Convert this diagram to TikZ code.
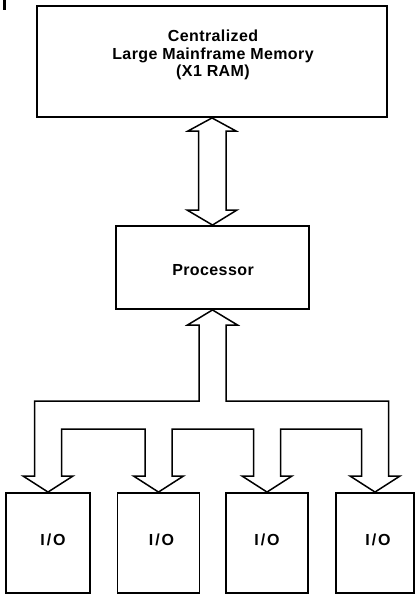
\documentclass[tikz,border=0pt]{standalone}
\usepackage{fontspec}
\newfontfamily\lblfont{Liberation Sans}[LetterSpace=2.5]
\usetikzlibrary{calc}
\begin{document}
\begin{tikzpicture}[x=1pt,y=-1pt,
  box/.style={draw, line width=1.9pt, rectangle, inner sep=0pt},
  lbl/.style={font=\lblfont\bfseries\fontsize{16}{17.5}\selectfont, align=center, inner sep=0pt},
  bigarrow/.style={draw, line width=1.5pt, line join=miter, fill=white}]
\useasboundingbox (0,0) rectangle (415,594);
% top-left margin mark
\draw[line width=2.5pt] (4.5,0) -- (4.5,10);
% boxes
\node[box, minimum width=350pt, minimum height=111pt] (mem) at (212,61.5) {};
\node[box, minimum width=193pt, minimum height=83pt] (proc) at (212.5,267.5) {};
\node[box, minimum width=84pt, minimum height=100pt] (io1) at (48,543) {};
\node[box, minimum width=82pt, minimum height=100pt] (io2) at (158.5,543) {};
\node[box, minimum width=82pt, minimum height=100pt] (io3) at (267,543) {};
\node[box, minimum width=78pt, minimum height=100pt] (io4) at (375,543) {};
% labels
\node[lbl] (memtext) at (213,55) {Centralized\\Large Mainframe Memory\\(X1 RAM)};
\node[lbl] (proctext) at (213,270) {Processor};
\node[lbl] (io1text) at ($(io1.center)+(5,-3)$) {I\kern2pt/\kern2pt O};
\node[lbl] (io2text) at ($(io2.center)+(3,-3)$) {I\kern2pt/\kern2pt O};
\node[lbl] (io3text) at ($(io3.center)+(0,-3)$) {I\kern2pt/\kern2pt O};
\node[lbl] (io4text) at ($(io4.center)+(3,-3)$) {I\kern2pt/\kern2pt O};
% double arrow memory <-> processor
\draw[bigarrow] (mem.south) -- (236,131) -- (226,131) -- (226,210) -- (237,210)
  -- (proc.north) -- (187,210) -- (198.5,210) -- (198.5,131) -- (188,131) -- cycle;
% bus tree from processor to I/O
\draw[bigarrow] (proc.south) -- (237.5,325) -- (226,325) -- (226,401)
  -- (388.5,401) -- (388.5,476) -- (400,476) -- (io4.north) -- (350,476) -- (361.5,476)
  -- (361.5,429) -- (280.5,429) -- (280.5,476) -- (292,476) -- (io3.north) -- (242,476) -- (253.5,476)
  -- (253.5,429) -- (172,429) -- (172,476) -- (183.5,476) -- (io2.north) -- (133.5,476) -- (145,476)
  -- (145,429) -- (61.5,429) -- (61.5,476) -- (73,476) -- (io1.north) -- (23,476) -- (34.5,476)
  -- (34.5,401) -- (199,401) -- (199,325) -- (187.5,325) -- cycle;
\end{tikzpicture}
\end{document}
